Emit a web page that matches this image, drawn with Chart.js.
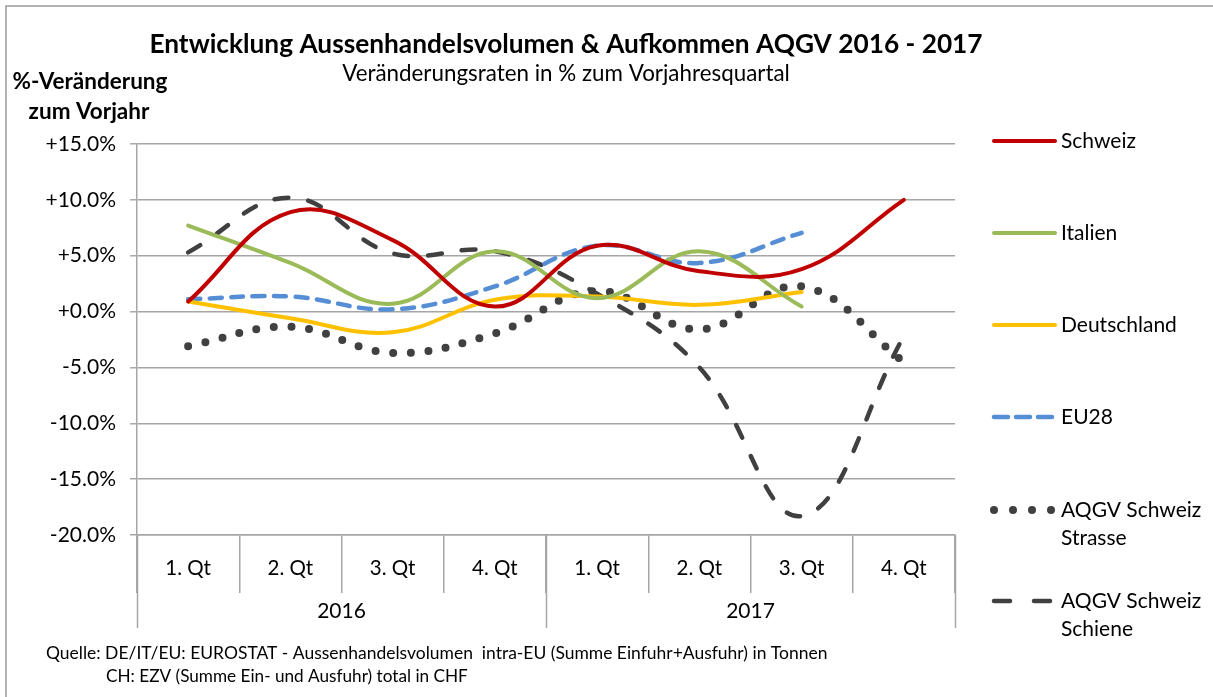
<!DOCTYPE html>
<html><head><meta charset="utf-8">
<script src="https://cdn.jsdelivr.net/npm/chart.js@4.4.1/dist/chart.umd.min.js"></script>
<style>html,body{margin:0;padding:0;background:#fff;overflow:hidden}#wrap{width:1213px;height:697px;position:relative}</style>
</head><body><div id="wrap"><canvas id="c" width="1213" height="697"></canvas></div>
<script>
const quarters = ['1. Qt','2. Qt','3. Qt','4. Qt','1. Qt','2. Qt','3. Qt','4. Qt'];
const years = ['2016','2017'];
const schweiz = [0.9, 8.9, 6.4, 0.45, 5.9, 3.6, 3.8, 10.0];
const italien = [7.7, 4.35, 0.7, 5.4, 1.2, 5.4, 0.45, null];
const deutschland = [0.9, -0.6, -1.85, 1.05, 1.35, 0.6, 1.75, null];
const eu28 = [1.1, 1.35, 0.2, 2.25, 5.9, 4.35, 7.05, null];
const strasse = [-3.1, -1.35, -3.7, -1.95, 1.85, -1.6, 2.25, -4.5];
const schiene = [5.3, 10.2, 5.2, 5.4, 1.6, -5.0, -18.3, -2.2];
const seriesNames = ['Schweiz','Italien','Deutschland','EU28','AQGV Schweiz\nStrasse','AQGV Schweiz\nSchiene'];
const titleText = 'Entwicklung Aussenhandelsvolumen & Aufkommen AQGV 2016 - 2017';
const subtitleText = 'Veränderungsraten in % zum Vorjahresquartal';
const yTitle = ['%-Veränderung','zum Vorjahr'];
const sourceLines = ['Quelle: DE/IT/EU: EUROSTAT - Aussenhandelsvolumen  intra-EU (Summe Einfuhr+Ausfuhr) in Tonnen','CH: EZV (Summe Ein- und Ausfuhr) total in CHF'];

const FONT = 'Lato, "Open Sans", sans-serif';
const GRID = '#a6a6a6';
const DARK = '#404040';

function fitText(ctx, text, weight, base, target) {
  ctx.font = weight + ' ' + base + 'px ' + FONT;
  const w = ctx.measureText(text).width;
  const s = base * target / w;
  ctx.font = weight + ' ' + s.toFixed(2) + 'px ' + FONT;
}

const styles = [
  {color:'#C00000', width:4, dash:[], cap:'round'},
  {color:'#9BBB59', width:4, dash:[], cap:'round'},
  {color:'#FFC000', width:4, dash:[], cap:'round'},
  {color:'#558ED5', width:4.5, dash:[12,9.5], cap:'round'},
  {color:DARK, width:8, dash:[0,17.6], cap:'round'},
  {color:DARK, width:4.5, dash:[14,20], cap:'round'}
];
const seriesData = [schweiz, italien, deutschland, eu28, strasse, schiene];

const decor = {
  id:'decor',
  beforeDraw(chart){
    const ctx = chart.ctx;
    ctx.save();
    ctx.fillStyle = '#fff';
    ctx.fillRect(0,0,chart.width,chart.height);
    ctx.strokeStyle = '#9a9a9a';
    ctx.lineWidth = 1.5;
    ctx.beginPath();
    ctx.moveTo(6, 700); ctx.lineTo(6, 6); ctx.lineTo(1220, 6);
    ctx.stroke();
    ctx.restore();
  },
  afterDraw(chart){
    const ctx = chart.ctx;
    const xs = chart.scales.x;
    const ca = chart.chartArea;
    ctx.save();
    ctx.fillStyle = '#000';
    ctx.textAlign = 'center';
    ctx.textBaseline = 'middle';
    fitText(ctx, titleText, 'bold', 22, 833);
    ctx.fillText(titleText, 566, 45);
    fitText(ctx, subtitleText, 'normal', 18, 448);
    ctx.fillText(subtitleText, 566, 74);
    fitText(ctx, yTitle[0], 'bold', 20, 155);
    ctx.fillText(yTitle[0], 90, 82);
    ctx.fillText(yTitle[1], 89, 112);

    // year row
    const half = (xs.getPixelForValue(1) - xs.getPixelForValue(0)) / 2;
    ctx.strokeStyle = GRID;
    ctx.lineWidth = 1.5;
    const yb = ca.bottom;
    const bounds = [xs.getPixelForValue(0) - half, xs.getPixelForValue(3) + half, xs.getPixelForValue(7) + half];
    ctx.beginPath();
    bounds.forEach(b => { ctx.moveTo(Math.round(b)+0.5, yb); ctx.lineTo(Math.round(b)+0.5, 628); });
    ctx.stroke();
    ctx.font = 'normal 21px ' + FONT;
    ctx.fillText(years[0], (bounds[0]+bounds[1])/2, 611);
    ctx.fillText(years[1], (bounds[1]+bounds[2])/2, 611);

    // source
    ctx.textAlign = 'left';
    fitText(ctx, sourceLines[0], 'normal', 15, 782);
    ctx.fillText(sourceLines[0], 46, 653);
    fitText(ctx, sourceLines[1], 'normal', 15, 362);
    ctx.fillText(sourceLines[1], 106, 676);

    // legend
    const legY = [141, 233, 325, 417, 510, 601];
    chart.data.datasets.forEach((ds, i) => {
      const st = styles[i];
      const y = legY[i];
      ctx.save();
      ctx.strokeStyle = st.color;
      ctx.fillStyle = st.color;
      ctx.lineCap = st.cap;
      if (i === 3) {
        ctx.lineWidth = 4.5;
        [[992,1010],[1014,1032],[1036,1054]].forEach(s => { ctx.beginPath(); ctx.moveTo(s[0]+2,y); ctx.lineTo(s[1]-2,y); ctx.stroke(); });
      } else if (i === 4) {
        [994,1013,1032,1051].forEach(x => { ctx.beginPath(); ctx.arc(x,y,4,0,Math.PI*2); ctx.fill(); });
      } else if (i === 5) {
        ctx.lineWidth = 4.5;
        [[992,1012],[1032,1052]].forEach(s => { ctx.beginPath(); ctx.moveTo(s[0]+2,y); ctx.lineTo(s[1]-2,y); ctx.stroke(); });
      } else {
        ctx.lineWidth = 4;
        ctx.beginPath(); ctx.moveTo(994,y); ctx.lineTo(1055,y); ctx.stroke();
      }
      ctx.restore();
      ctx.fillStyle = '#000';
      ctx.textAlign = 'left';
      ctx.textBaseline = 'middle';
      ctx.font = 'normal 21px ' + FONT;
      const lines = ds.label.split('\n');
      lines.forEach((t, k) => ctx.fillText(t, 1061, y + k*28));
    });
    ctx.restore();
  }
};

const datasets = seriesData.map((d, i) => ({
  label: seriesNames[i],
  data: d,
  borderColor: styles[i].color,
  backgroundColor: styles[i].color,
  borderWidth: styles[i].width,
  borderDash: styles[i].dash,
  borderCapStyle: styles[i].cap,
  borderJoinStyle: 'round',
  tension: 0.4,
  pointRadius: 0,
  pointHoverRadius: 0,
  fill: false,
  spanGaps: false
}));

new Chart(document.getElementById('c'), {
  type: 'line',
  data: { labels: quarters, datasets },
  options: {
    responsive: false,
    animation: false,
    events: [],
    layout: { padding: { top: 144, right: 258, bottom: 0, left: 0 } },
    plugins: { legend: { display: false }, title: { display: false }, tooltip: { enabled: false } },
    scales: {
      y: {
        min: -20, max: 15,
        afterFit: s => { s.width = 137; },
        ticks: {
          stepSize: 5, padding: 14, color: '#000',
          font: { family: FONT, size: 21 },
          callback: v => (v >= 0 ? '+' : '') + Number(v).toFixed(1) + '%'
        },
        grid: { color: GRID, lineWidth: 1.5, tickLength: 7, drawTicks: true },
        border: { color: GRID, width: 1.5 }
      },
      x: {
        type: 'category',
        offset: true,
        afterFit: s => { s.height = 162; },
        grid: { display: true, drawOnChartArea: false, offset: true, tickLength: 58, color: GRID, lineWidth: 1.5 },
        border: { display: true, color: GRID, width: 1.5 },
        ticks: { padding: -37, color: '#000', font: { family: FONT, size: 20.5 }, maxRotation: 0, autoSkip: false }
      }
    }
  },
  plugins: [decor]
});
</script>
</body></html>
